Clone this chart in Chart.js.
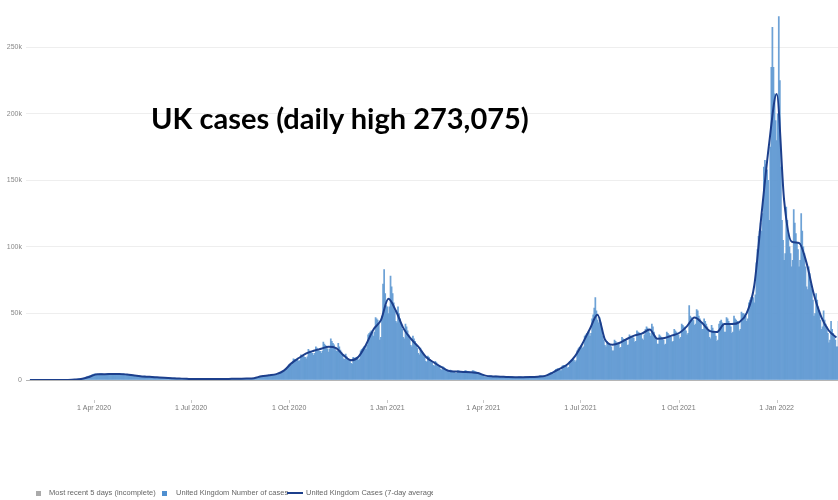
<!DOCTYPE html>
<html>
<head>
<meta charset="utf-8">
<script src="https://cdn.jsdelivr.net/npm/chart.js@4.4.1/dist/chart.umd.min.js"></script>
<style>
  body { margin: 0; background: #fff; }
  #wrap { position: relative; width: 838px; height: 500px; overflow: hidden; }
  #title { position: absolute; left: 151px; top: 101px; font: bold 29px Lato, sans-serif; line-height: 1.2; color: #000; white-space: nowrap; }
  #legend { position: absolute; left: 0; top: 486px; width: 433px; height: 13px; overflow: hidden; font: 7.5px 'Liberation Sans', Arial, sans-serif; color: #666; }
  #legend span { position: absolute; top: 0; white-space: nowrap; line-height: 13px; }
  #legend .box { top: 4.5px; width: 5px; height: 5px; }
  #legend .ln { top: 5.5px; width: 16px; height: 2px; background: #1c3f8c; }
</style>
</head>
<body>
<div id="wrap">
  <canvas id="casesChart"></canvas>
  <div id="title">UK cases (daily high 273,075)</div>
  <div id="legend">
    <span class="box" style="left:36px;background:#aaaaaa"></span>
    <span style="left:49px">Most recent 5 days (incomplete)</span>
    <span class="box" style="left:162px;background:#4f8fd0"></span>
    <span style="left:176px">United Kingdom Number of cases</span>
    <span class="ln" style="left:287px"></span>
    <span style="left:306px">United Kingdom Cases (7-day average)</span>
  </div>
</div>
<script>
// daily cases in thousands, one array per month
const casesFeb20 = [0,0,0,0,0,0,0,0,0,0,0,0,0,0,0,0,0,0,0,0,0,0,0,0,0,0.01,0.02,0.02,0.03];
const casesMar20 = [0.03,0.04,0.05,0.06,0.08,0.1,0.1,0.12,0.15,0.2,0.25,0.3,0.35,0.4,0.45,0.55,0.65,0.8,0.9,1.0,1.1,1.2,1.5,1.9,2.3,2.6,3.0,3.2,3.3,3.8,4.2];
const casesApr20 = [4.4,4.6,4.5,4.0,3.8,4.7,4.9,4.8,4.6,4.3,3.9,3.7,4.5,4.9,5.1,4.8,4.5,4.0,3.8,4.6,4.9,5.0,4.8,4.6,4.1,3.8,4.4,4.7,4.6,4.3];
const casesMay20 = [4.0,3.5,3.2,3.9,4.0,3.8,3.5,3.2,2.8,2.6,3.3,3.3,3.1,2.9,2.7,2.3,2.2,2.9,2.9,2.7,2.5,2.4,2.0,1.9,2.4,2.5,2.3,2.2,2.0,1.7,1.6];
const casesJun20 = [2.1,2.0,1.9,1.8,1.7,1.4,1.3,1.8,1.7,1.6,1.5,1.4,1.2,1.1,1.5,1.4,1.3,1.2,1.1,0.9,0.9,1.2,1.1,1.0,1.0,0.9,0.8,0.7,1.0,0.9];
const casesJul20 = [0.9,0.8,0.8,0.6,0.6,0.8,0.8,0.7,0.7,0.7,0.55,0.55,0.75,0.75,0.7,0.7,0.65,0.55,0.55,0.75,0.75,0.7,0.7,0.7,0.6,0.6,0.8,0.8,0.8,0.75,0.75];
const casesAug20 = [0.6,0.6,0.9,0.9,0.9,0.85,0.8,0.65,0.65,0.95,1.0,1.0,0.95,0.9,0.75,0.75,1.05,1.1,1.05,1.0,1.0,0.85,0.85,1.2,1.2,1.2,1.15,1.1,0.95,1.0,1.4];
const casesSep20 = [1.8,2.0,2.4,2.5,2.4,2.6,3.4,3.5,3.4,3.3,3.2,2.9,3.0,3.9,4.0,3.9,3.8,3.9,3.6,3.8,5.0,5.2,5.3,5.5,6.0,6.0,6.5,8.5,9.5,10.5];
const casesOct20 = [11.5,12,11,12.5,16,15.5,15,14.5,15,14,14.5,19,18.5,18,17.5,17,16,17.5,23,22,21,20.5,20,18.5,20,25,24,23,22,21.5,20];
const casesNov20 = [21.5,28.5,27,26,25,23.5,21,23.5,31,29,27.5,26.5,24.5,22,21.5,27.5,25,22.5,21,19,16,15.5,19.5,17.5,16,15.5,14.5,12.5,12,17];
const casesDec20 = [16.5,16.5,17,17,15,16,22,23,24,25,25,23,26,34,35,36,37,36,33,36,47,46,45,42,30,32,48,72,83,65,56];
const casesJan21 = [55,50,55,78,70,65,58,52,44,43,55,50,46,42,38,32,31,42,40,37,34,31,26,25,33,31,29,27,24,20,19];
const casesFeb21 = [24,22,20,18.5,17,14,13.5,18,17,15.5,14,13,11,10.5,14,13,12,11,10,8,7.5,10,9.5,8.5,8,7.5,6,5.5];
const casesMar21 = [7.5,7.0,6.5,6.5,6.0,5.0,5.0,7.0,6.8,6.5,6.3,6.0,5.0,5.0,7.0,6.8,6.5,6.3,6.0,5.0,5.0,7.0,6.8,6.5,6.2,5.8,4.5,4.3,5.0,4.2,3.5];
const casesApr21 = [3.0,2.4,2.2,2.0,2.3,3.1,3.2,3.0,2.8,2.3,2.2,3.0,2.9,2.8,2.6,2.4,2.0,1.9,2.7,2.6,2.5,2.4,2.2,1.9,1.8,2.4,2.4,2.3,2.2,2.0];
const casesMay21 = [1.8,1.7,1.8,2.4,2.4,2.3,2.2,1.8,1.8,2.4,2.4,2.3,2.2,2.1,1.9,1.9,2.6,2.6,2.5,2.5,2.5,2.2,2.3,3.1,3.2,3.1,3.1,3.0,2.6,2.6,3.0];
const casesJun21 = [4.5,5.0,5.5,5.5,5.0,4.6,7.0,8.0,8.3,8.5,8.0,7.0,7.0,10.5,11,11,10.8,10.5,9.0,9.5,14,15,15.5,15.5,15,13.5,14.5,22,23.5,24.5];
const casesJul21 = [25,26,24,25,33,34,35,36,36,33,35,46,49,54,62,52,45,43,47,43,38,33,30,26,25,29,28,27,26,25,22];
const casesAug21 = [22,30,29,28,27.5,27,24,24.5,32,31,30.5,30,29.5,26,26.5,34,33,32.5,32,31.5,28.5,29,37,36,35.5,35,34.5,31,30,34,38];
const casesSep21 = [40,39,38,35,33,42,40,36,33,31,27,27,34,33,32,31,30,26.5,27,36,35,34,33,32,28.5,29,38,37,36,35];
const casesOct21 = [34,31,32,42,41,40,39,37,34,35,56,48,47,46,45,41,42,53,52,48,46,43,38,38,46,44,42,40,38,32,31];
const casesNov21 = [41,39,37,35,33,29,30,42,44,45,43,41,36,36,47,46,44,42,40,35,36,48,46,45,44,43,37,38,51,50];
const casesDec21 = [50,49,48,44,46,58,60,62,63,62,58,64,88,98,108,112,118,112,125,160,165,162,158,150,120,175,235,265,235,215,195];
const casesJan22 = [180,200,273.075,225,160,120,105,90,95,130,120,110,100,95,85,90,128,118,110,103,98,85,90,125,112,100,95,85,70,68,85];
const casesFeb22 = [80,72,68,60,48,50,65,60,55,52,45,38,40,52,45,42,40,35,28,30,44,38,35,33,30,25,25,44];

// 7-day average in thousands, one reading a week from 1 Feb 2020
const avgWeekly = [0,0,0,0,0.02,0.08,0.3,0.9,2.5,4.3,4.4,4.5,4.6,4.1,3.3,2.7,2.4,2.0,1.6,1.3,1.1,0.9,0.72,0.68,0.66,0.7,0.74,0.85,0.95,1.05,
  1.4,2.8,3.5,4.4,7.0,12.5,16.5,20,22,23.5,25,24,18.5,14.8,17.5,26.5,38,45,61,52,39,31,25,17.5,13.5,10,7,6.3,6.1,5.9,
  5.2,3.3,2.7,2.5,2.2,2.1,2.1,2.2,2.5,3.1,5.5,8.6,11.8,18,27.5,38.5,49,30.5,26.5,28,31,33.5,35,38,31,31.5,33.5,35.5,40.5,47,
  43,37,36,42,42,43.5,50.5,71,126,178,215,135,104,103,88,64,47,37,32];

// days counted from 1 Apr 2020
const firstDay = -60;
const tickDays = [0, 91, 183, 275, 365, 456, 548, 640];
const tickLabels = ['1 Apr 2020', '1 Jul 2020', '1 Oct 2020', '1 Jan 2021', '1 Apr 2021', '1 Jul 2021', '1 Oct 2021', '1 Jan 2022'];
const yTicks = [0, 50, 100, 150, 200, 250];

const dailyCases = [].concat(casesFeb20, casesMar20, casesApr20, casesMay20, casesJun20, casesJul20,
  casesAug20, casesSep20, casesOct20, casesNov20, casesDec20, casesJan21, casesFeb21, casesMar21,
  casesApr21, casesMay21, casesJun21, casesJul21, casesAug21, casesSep21, casesOct21, casesNov21,
  casesDec21, casesJan22, casesFeb22);

Chart.defaults.font.family = "'Liberation Sans', Arial, sans-serif";

// little detached tick marks under the x axis
const tickMarks = {
  id: 'tickMarks',
  afterDraw(chart) {
    var ctx = chart.ctx;
    var x = chart.scales.x;
    ctx.save();
    ctx.strokeStyle = '#c8c8c8';
    ctx.lineWidth = 1;
    tickDays.forEach(d => {
      var px = Math.round(x.getPixelForValue(d)) + 0.5;
      ctx.beginPath();
      ctx.moveTo(px, 400);
      ctx.lineTo(px, 403);
      ctx.stroke();
    });
    ctx.restore();
  }
};

new Chart(document.getElementById('casesChart'), {
  type: 'bar',
  data: {
    datasets: [{
      type: 'line',
      label: 'United Kingdom Cases (7-day average)',
      data: avgWeekly.map((v, i) => ({ x: firstDay + 7 * i, y: v })),
      borderColor: '#1c3f8c',
      borderWidth: 2,
      pointRadius: 0,
      cubicInterpolationMode: 'monotone',
      order: 0
    }, {
      label: 'United Kingdom Number of cases',
      data: dailyCases.map((v, i) => ({ x: firstDay + i, y: v })),
      backgroundColor: 'rgba(98,154,210,0.92)',
      barPercentage: 1,
      categoryPercentage: 1,
      order: 1
    }]
  },
  options: {
    responsive: true,
    maintainAspectRatio: false,
    animation: false,
    layout: { padding: 0 },
    plugins: { legend: { display: false }, tooltip: { enabled: false } },
    scales: {
      x: {
        type: 'linear',
        min: -63.75,
        max: 697.5,
        offset: false,
        grid: { display: false, drawTicks: false, offset: false },
        border: { display: false },
        afterBuildTicks: axis => { axis.ticks = tickDays.map(v => ({ value: v })); },
        afterFit: axis => { axis.height = 120; },
        ticks: {
          padding: 24,
          maxRotation: 0,
          autoSkip: false,
          color: '#777',
          font: { size: 7 },
          callback: v => tickLabels[tickDays.indexOf(v)]
        }
      },
      y: {
        min: 0,
        max: 279.4,
        grid: {
          drawTicks: false,
          color: c => c.tick && c.tick.value === 0 ? '#b5b5b5' : '#eeeeee'
        },
        border: { display: false },
        afterBuildTicks: axis => { axis.ticks = yTicks.map(v => ({ value: v })); },
        afterFit: axis => { axis.width = 26; },
        ticks: {
          padding: 4,
          color: '#888',
          font: { size: 7 },
          callback: v => v === 0 ? '0' : v + 'k'
        }
      }
    }
  },
  plugins: [tickMarks]
});
</script>
</body>
</html>
